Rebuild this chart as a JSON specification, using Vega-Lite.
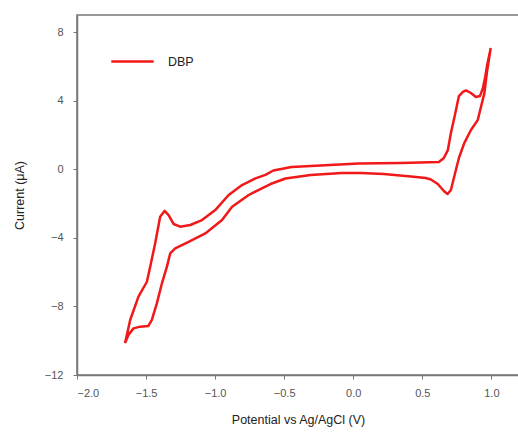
{
  "$schema": "https://vega.github.io/schema/vega-lite/v6.json",
  "autosize": "none",
  "width": 442,
  "height": 360,
  "padding": {"left": 77, "top": 15, "right": 0, "bottom": 58},
  "background": "white",
  "config": {
    "font": "Liberation Sans",
    "view": {"stroke": "#777777", "strokeWidth": 1.5}
  },
  "data": {
    "values": [
      {"i": 1, "v": -1.652, "c": -10.14, "s": "DBP"},
      {"i": 2, "v": -1.615, "c": -8.79, "s": "DBP"},
      {"i": 3, "v": -1.555, "c": -7.43, "s": "DBP"},
      {"i": 4, "v": -1.494, "c": -6.56, "s": "DBP"},
      {"i": 5, "v": -1.47, "c": -5.68, "s": "DBP"},
      {"i": 6, "v": -1.434, "c": -4.32, "s": "DBP"},
      {"i": 7, "v": -1.398, "c": -2.77, "s": "DBP"},
      {"i": 8, "v": -1.366, "c": -2.43, "s": "DBP"},
      {"i": 9, "v": -1.337, "c": -2.67, "s": "DBP"},
      {"i": 10, "v": -1.301, "c": -3.19, "s": "DBP"},
      {"i": 11, "v": -1.253, "c": -3.35, "s": "DBP"},
      {"i": 12, "v": -1.18, "c": -3.25, "s": "DBP"},
      {"i": 13, "v": -1.095, "c": -2.96, "s": "DBP"},
      {"i": 14, "v": -0.999, "c": -2.38, "s": "DBP"},
      {"i": 15, "v": -0.902, "c": -1.5, "s": "DBP"},
      {"i": 16, "v": -0.805, "c": -0.92, "s": "DBP"},
      {"i": 17, "v": -0.708, "c": -0.53, "s": "DBP"},
      {"i": 18, "v": -0.636, "c": -0.33, "s": "DBP"},
      {"i": 19, "v": -0.578, "c": -0.07, "s": "DBP"},
      {"i": 20, "v": -0.447, "c": 0.13, "s": "DBP"},
      {"i": 21, "v": -0.237, "c": 0.22, "s": "DBP"},
      {"i": 22, "v": 0.039, "c": 0.34, "s": "DBP"},
      {"i": 23, "v": 0.344, "c": 0.37, "s": "DBP"},
      {"i": 24, "v": 0.62, "c": 0.42, "s": "DBP"},
      {"i": 25, "v": 0.656, "c": 0.66, "s": "DBP"},
      {"i": 26, "v": 0.685, "c": 1.12, "s": "DBP"},
      {"i": 27, "v": 0.707, "c": 2.12, "s": "DBP"},
      {"i": 28, "v": 0.736, "c": 3.17, "s": "DBP"},
      {"i": 29, "v": 0.765, "c": 4.27, "s": "DBP"},
      {"i": 30, "v": 0.794, "c": 4.51, "s": "DBP"},
      {"i": 31, "v": 0.816, "c": 4.6, "s": "DBP"},
      {"i": 32, "v": 0.852, "c": 4.45, "s": "DBP"},
      {"i": 33, "v": 0.888, "c": 4.22, "s": "DBP"},
      {"i": 34, "v": 0.917, "c": 4.27, "s": "DBP"},
      {"i": 35, "v": 0.939, "c": 4.74, "s": "DBP"},
      {"i": 36, "v": 0.954, "c": 5.32, "s": "DBP"},
      {"i": 37, "v": 0.968, "c": 6.02, "s": "DBP"},
      {"i": 38, "v": 0.994, "c": 7.02, "s": "DBP"},
      {"i": 39, "v": 0.968, "c": 5.67, "s": "DBP"},
      {"i": 40, "v": 0.949, "c": 4.43, "s": "DBP"},
      {"i": 41, "v": 0.925, "c": 3.65, "s": "DBP"},
      {"i": 42, "v": 0.901, "c": 2.87, "s": "DBP"},
      {"i": 43, "v": 0.852, "c": 2.29, "s": "DBP"},
      {"i": 44, "v": 0.803, "c": 1.51, "s": "DBP"},
      {"i": 45, "v": 0.765, "c": 0.66, "s": "DBP"},
      {"i": 46, "v": 0.743, "c": -0.04, "s": "DBP"},
      {"i": 47, "v": 0.707, "c": -1.21, "s": "DBP"},
      {"i": 48, "v": 0.683, "c": -1.44, "s": "DBP"},
      {"i": 49, "v": 0.656, "c": -1.27, "s": "DBP"},
      {"i": 50, "v": 0.612, "c": -0.86, "s": "DBP"},
      {"i": 51, "v": 0.562, "c": -0.6, "s": "DBP"},
      {"i": 52, "v": 0.525, "c": -0.51, "s": "DBP"},
      {"i": 53, "v": 0.417, "c": -0.42, "s": "DBP"},
      {"i": 54, "v": 0.221, "c": -0.28, "s": "DBP"},
      {"i": 55, "v": 0.054, "c": -0.22, "s": "DBP"},
      {"i": 56, "v": -0.084, "c": -0.22, "s": "DBP"},
      {"i": 57, "v": -0.309, "c": -0.33, "s": "DBP"},
      {"i": 58, "v": -0.491, "c": -0.54, "s": "DBP"},
      {"i": 59, "v": -0.599, "c": -0.86, "s": "DBP"},
      {"i": 60, "v": -0.687, "c": -1.21, "s": "DBP"},
      {"i": 61, "v": -0.757, "c": -1.5, "s": "DBP"},
      {"i": 62, "v": -0.877, "c": -2.18, "s": "DBP"},
      {"i": 63, "v": -0.95, "c": -2.96, "s": "DBP"},
      {"i": 64, "v": -1.071, "c": -3.74, "s": "DBP"},
      {"i": 65, "v": -1.192, "c": -4.23, "s": "DBP"},
      {"i": 66, "v": -1.289, "c": -4.61, "s": "DBP"},
      {"i": 67, "v": -1.325, "c": -4.9, "s": "DBP"},
      {"i": 68, "v": -1.349, "c": -5.68, "s": "DBP"},
      {"i": 69, "v": -1.385, "c": -6.65, "s": "DBP"},
      {"i": 70, "v": -1.422, "c": -7.82, "s": "DBP"},
      {"i": 71, "v": -1.458, "c": -8.79, "s": "DBP"},
      {"i": 72, "v": -1.483, "c": -9.14, "s": "DBP"},
      {"i": 73, "v": -1.543, "c": -9.18, "s": "DBP"},
      {"i": 74, "v": -1.591, "c": -9.28, "s": "DBP"},
      {"i": 75, "v": -1.628, "c": -9.67, "s": "DBP"},
      {"i": 76, "v": -1.652, "c": -10.14, "s": "DBP"}
    ]
  },
  "mark": {"type": "line", "strokeWidth": 2.5, "strokeJoin": "round", "interpolate": "linear"},
  "encoding": {
    "x": {
      "field": "v", "type": "quantitative",
      "scale": {"domain": [-2, 1.2], "nice": false, "zero": false},
      "axis": {
        "title": "Potential vs Ag/AgCl (V)",
        "values": [-2, -1.5, -1, -0.5, 0, 0.5, 1],
        "format": ".1f",
        "grid": false,
        "domainColor": "#777777", "domainWidth": 1.5,
        "tickColor": "#777777", "tickSize": 4, "tickWidth": 1,
        "labelColor": "#555555", "labelFontSize": 11, "labelPadding": 8,
        "titleColor": "#222222", "titleFontSize": 12.5, "titleFontWeight": "normal", "titlePadding": 15
      }
    },
    "y": {
      "field": "c", "type": "quantitative",
      "scale": {"domain": [-12, 9], "nice": false, "zero": false},
      "axis": {
        "title": "Current (μA)",
        "values": [-12, -8, -4, 0, 4, 8],
        "grid": false,
        "domainColor": "#777777", "domainWidth": 1.5,
        "tickColor": "#777777", "tickSize": 4, "tickWidth": 1,
        "labelColor": "#555555", "labelFontSize": 11, "labelPadding": 10,
        "titleColor": "#222222", "titleFontSize": 12.5, "titleFontWeight": "normal", "titlePadding": 18
      }
    },
    "color": {
      "field": "s", "type": "nominal",
      "scale": {"range": ["#f01818"]},
      "legend": {
        "title": null, "orient": "none", "legendX": 33, "legendY": 24,
        "symbolType": "stroke", "symbolSize": 1800, "symbolStrokeWidth": 2.5,
        "labelFontSize": 12.5, "labelColor": "#222222", "labelOffset": 13
      }
    },
    "order": {"field": "i", "type": "quantitative"}
  }
}
